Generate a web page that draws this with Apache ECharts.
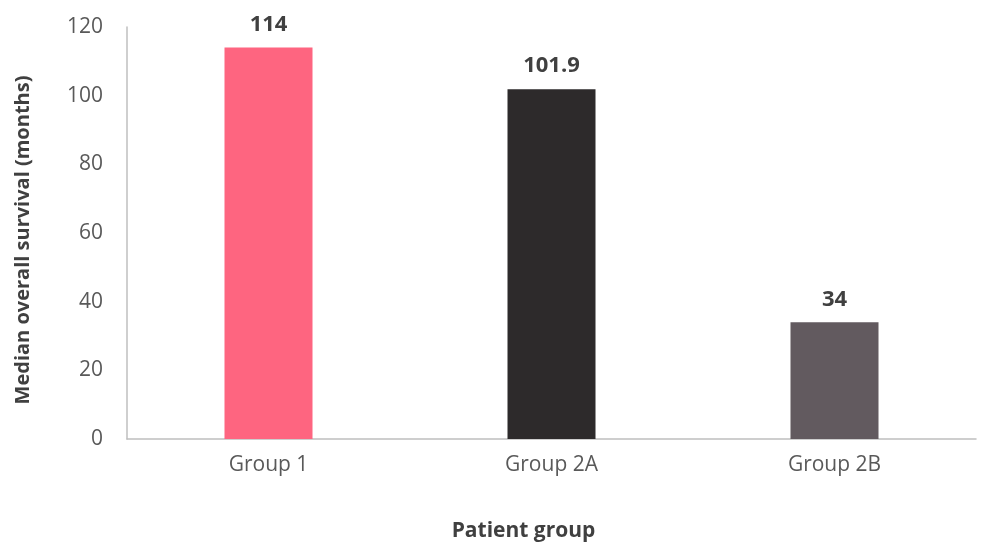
<!DOCTYPE html>
<html>
<head>
<meta charset="utf-8">
<script src="https://cdn.jsdelivr.net/npm/echarts@6/dist/echarts.min.js"></script>
<style>
  html, body { margin: 0; padding: 0; background: #fff; }
  #chart { width: 1000px; height: 551px; }
</style>
</head>
<body>
<div id="chart"></div>
<script>
// categories and values
const groups = ['Group 1', 'Group 2A', 'Group 2B']
const survival = [114, 101.9, 34]
const barColors = ['#fe6580', '#2d2a2b', '#625a5f']
const yTicks = { min: 0, max: 120, interval: 20 }

const font = '"Open Sans", "Liberation Sans", sans-serif'
const chart = echarts.init(document.getElementById('chart'))
chart.setOption({
  animation: false,
  textStyle: { fontFamily: font },
  grid: {
    left: 127,
    right: 24,
    top: 27,
    bottom: 112
  },
  xAxis: {
    type: 'category',
    data: groups,
    name: 'Patient group',
    nameLocation: 'middle',
    nameGap: 82,
    // title sits a bit left of the plot centre in the original
    nameTextStyle: { fontSize: 21, fontWeight: 'bold', color: '#404040', fontFamily: font, padding: [0, 56, 0, 0] },
    axisLine: { lineStyle: { color: '#bfbfbf', width: 1.5 } },
    axisTick: { show: false },
    axisLabel: { fontSize: 21, color: '#595959', margin: 16, fontFamily: font }
  },
  yAxis: {
    type: 'value',
    min: yTicks.min,
    max: yTicks.max,
    interval: yTicks.interval,
    name: 'Median overall survival (months)',
    nameLocation: 'middle',
    nameGap: 94,
    nameTextStyle: { fontSize: 20, fontWeight: 'bold', color: '#404040', fontFamily: font, padding: [0, 14, 0, 0] },
    axisLine: { show: true, lineStyle: { color: '#bfbfbf', width: 1.5 } },
    axisTick: { show: false },
    splitLine: { show: false },
    axisLabel: { fontSize: 21, color: '#595959', margin: 24, fontFamily: font }
  },
  series: [{
    type: 'bar',
    barWidth: 88,
    data: survival.map((v, i) => ({ value: v, itemStyle: { color: barColors[i] } })),
    label: {
      show: true,
      position: 'top',
      distance: 12,
      fontSize: 22,
      fontWeight: 'bold',
      color: '#404040',
      fontFamily: font
    }
  }]
})
</script>
</body>
</html>
